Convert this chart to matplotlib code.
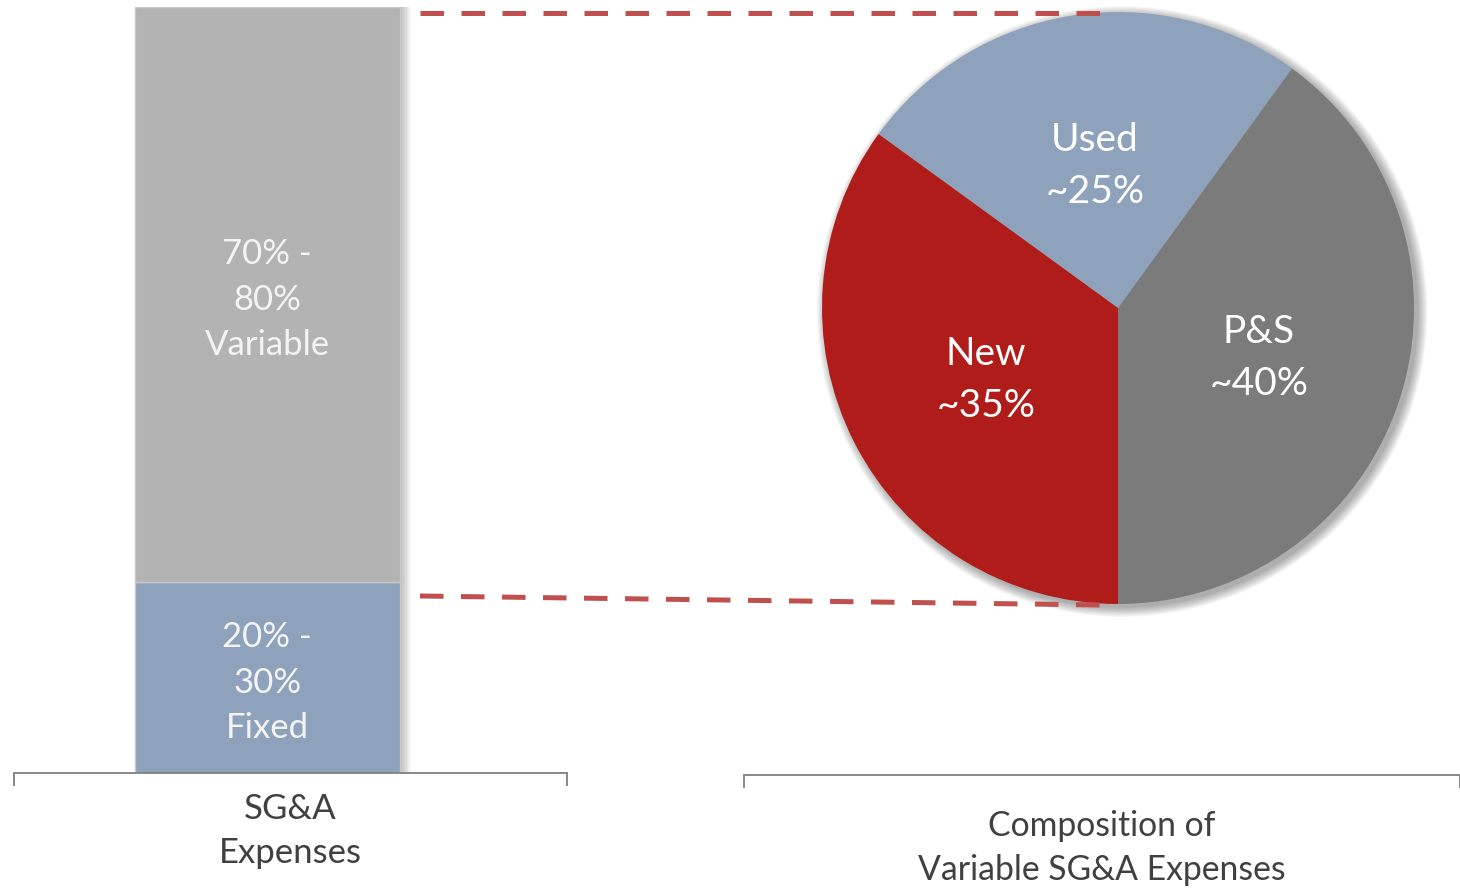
import matplotlib
matplotlib.use("Agg")
import matplotlib.pyplot as plt
from matplotlib.patches import Rectangle, Circle
from matplotlib.lines import Line2D

# ---- data ----
bar_category = "SG&A\nExpenses"
bar_segments = ["20% -\n30%\nFixed", "70% -\n80%\nVariable"]
bar_values = [25, 75]

pie_labels = ["Used\n~25%", "P&S\n~40%", "New\n~35%"]
pie_values = [25, 40, 35]
pie_title = "Composition of\nVariable SG&A Expenses"

# ---- styles ----
bar_colors = ["#8EA2BB", "#B3B3B3"]
pie_colors = ["#8EA2BB", "#7B7B7B", "#B01C1A"]
dash_color = "#C0504D"
text_dark = "#404040"
axis_gray = "#7F7F7F"
FONT = ["Lato", "DejaVu Sans"]

W, H = 1460, 889
fig = plt.figure(figsize=(W / 100, H / 100), dpi=100)
fig.patch.set_facecolor("white")


def fx(px):
    return px / W


def fy(py):
    return 1 - py / H


# ---- stacked bar ----
axb = fig.add_axes([fx(14), fy(773), fx(567) - fx(14), fy(7) - fy(773)])
axb.set_xlim(0, 1)
axb.set_ylim(0, sum(bar_values))
bx, bw = 0.458, 0.479
# shadow on the right
for i in range(8):
    axb.add_patch(Rectangle((bx + bw / 2, 0), (i + 1) * 0.0025, sum(bar_values),
                            facecolor="black", alpha=0.035, lw=0, zorder=1))
bottom = 0
for val, lab, col in zip(bar_values, bar_segments, bar_colors):
    axb.bar([bx], [val], width=bw, bottom=bottom, color=col,
            edgecolor="#C8C8C8", linewidth=1.0, zorder=2)
    axb.text(bx, bottom + val / 2 - 0.7, lab, ha="center", va="center",
             color="#F4F4F4", fontsize=25, family=FONT, linespacing=1.52, zorder=3)
    bottom += val
for s in ["top", "left", "right"]:
    axb.spines[s].set_visible(False)
axb.spines["bottom"].set_color(axis_gray)
axb.spines["bottom"].set_linewidth(1.3)
axb.set_yticks([])
axb.set_xticks([0, 1])
axb.set_xticklabels(["", ""])
axb.tick_params(axis="x", direction="out", length=9, width=1.3, color=axis_gray)
axb.text(0.5, -0.026, bar_category, transform=axb.transAxes, ha="center", va="top",
         color=text_dark, fontsize=25, family=FONT, linespacing=1.45)
axb.set_facecolor("none")

# ---- pie ----
axp = fig.add_axes([fx(822), fy(604), fx(1414) - fx(822), fy(12) - fy(604)])
axp.set_xlim(-1, 1)
axp.set_ylim(-1, 1)
axp.set_aspect("equal")
axp.axis("off")
for i in range(10):
    axp.add_patch(Circle((0.014, -0.012), 1.0 + i * 0.0035, facecolor="black",
                         alpha=0.035, lw=0, clip_on=False, zorder=0))
wedges, texts = axp.pie(pie_values, labels=pie_labels, colors=pie_colors,
                        startangle=144, counterclock=False, radius=1,
                        labeldistance=0.5, frame=False,
                        wedgeprops=dict(linewidth=0),
                        textprops=dict(color="white", fontsize=28, family=FONT,
                                       ha="center", va="center", linespacing=1.55))
for w in wedges:
    w.set_zorder(2)
for t in texts:
    t.set_zorder(3)
    x, y = t.get_position()
    t.set_position((x, y - 0.015))
axp.set_xlim(-1, 1)
axp.set_ylim(-1, 1)

# ---- composition axis bracket ----
axc = fig.add_axes([fx(744), fy(775), fx(1460) - fx(744), 0.01])
axc.set_xlim(0, 1)
axc.set_ylim(0, 1)
for s in ["top", "left", "right"]:
    axc.spines[s].set_visible(False)
axc.spines["bottom"].set_color(axis_gray)
axc.spines["bottom"].set_linewidth(1.3)
axc.set_yticks([])
axc.set_xticks([0, 1])
axc.set_xticklabels(["", ""])
axc.tick_params(axis="x", direction="out", length=9, width=1.3, color=axis_gray)
axc.set_facecolor("none")
fig.text(fx(1102), fy(810), pie_title, ha="center", va="top", color=text_dark,
         fontsize=24.3, family=FONT, linespacing=1.45)

# ---- dashed connectors ----
for (x0, y0, x1, y1) in [(420, 13, 1102, 13), (420, 596, 1102, 605)]:
    fig.add_artist(Line2D([fx(x0), fx(x1)], [fy(y0), fy(y1)], color=dash_color,
                          lw=3.6, dashes=(4.7, 3.5), solid_capstyle="butt",
                          dash_capstyle="butt", zorder=1))

fig.savefig("out.png", dpi=100, facecolor="white")
